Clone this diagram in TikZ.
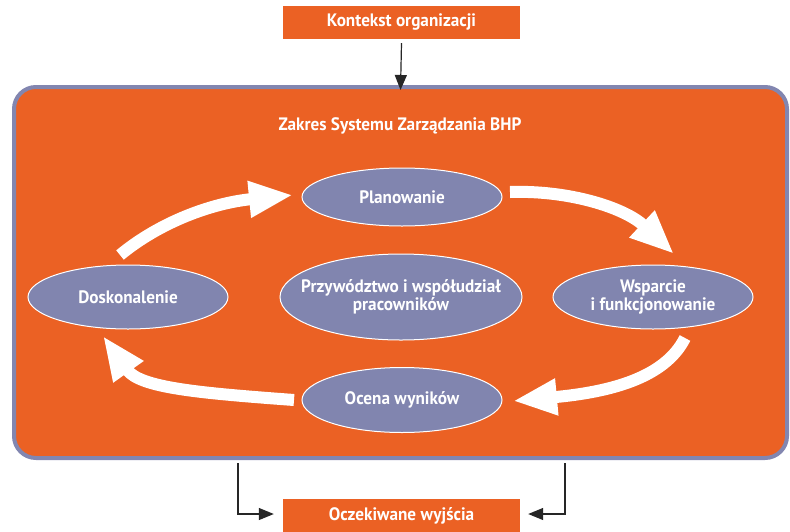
\documentclass[tikz,border=0pt]{standalone}
\usepackage{fontspec}
\setmainfont{PT Sans}[FakeStretch=0.955]
\usetikzlibrary{shapes.geometric,arrows.meta}
\definecolor{orng}{HTML}{EB6124}
\definecolor{lav}{HTML}{8185AF}
\definecolor{lavedge}{HTML}{8286B0}
\tikzset{
  lbl/.style={font=\fontsize{18}{18.5}\selectfont\bfseries, text=white, align=center},
  orbox/.style={lbl, fill=orng, draw=none, minimum width=237pt, minimum height=33pt, inner sep=0pt},
  oval/.style={lbl, ellipse, fill=lav, draw=white, line width=1pt, inner sep=0pt},
  cyc/.style={draw=white, line width=12pt, -{Triangle[length=44pt,width=34pt]}},
  flow/.style={draw=black!85, line width=1.2pt, -{Triangle[length=15pt,width=12pt]}},
}
\begin{document}
\begin{tikzpicture}[x=1pt,y=-1pt]
\useasboundingbox (0,0) rectangle (790,531);
\fill[white] (0,0) rectangle (790,531);
% frame
\node[draw=lavedge, line width=4pt, fill=orng, rounded corners=22pt,
      minimum width=773pt, minimum height=371pt, inner sep=0pt] (frame) at (400.5,272.5) {};
\node[lbl] (title) at (400,126) {Zakres Systemu Zarządzania BHP};
% boxes
\node[orbox] (ctx) at (401.5,22.5) {Kontekst organizacji};
\node[orbox, minimum height=36pt] (out) at (401.5,517) {};
\node[lbl] (outtxt) at (401.5,516) {Oczekiwane wyjścia};
% ellipses
\node[oval, minimum width=200pt, minimum height=58pt] (plan) at (402,197) {Planowanie};
\node[oval, minimum width=200pt, minimum height=64pt] (wsp) at (653,297) {Wsparcie\\i funkcjonowanie};
\node[oval, minimum width=200pt, minimum height=64pt] (dosk) at (128,297) {Doskonalenie};
\node[oval, minimum width=242pt, minimum height=86pt] (lead) at (401,297) {};
\node[lbl] (leadtxt) at (lead.center) {Przywództwo i współudział\\pracowników};
\node[oval, minimum width=200pt, minimum height=65pt] (ocena) at (402,400) {Ocena wyników};
% cycle arrows
\coordinate (a1s) at (120,255); \coordinate (a1e) at (293,195);
\coordinate (a2s) at (510,192); \coordinate (a2e) at (674,254);
\coordinate (a3s) at (685,338); \coordinate (a3e) at (513,401);
\coordinate (a4s) at (294,400); \coordinate (a4e) at (103,336);
\draw[cyc] (a1s) .. controls (160,222) and (212,203) .. (a1e);
\draw[cyc] (a2s) .. controls (570,190) and (625,208) .. (a2e);
\draw[cyc] (a3s) .. controls (665,378) and (610,392) .. (a3e);
\draw[cyc] (a4s) .. controls (200,393) and (140,388) .. (a4e);
% flow arrows
\draw[flow] (ctx.south) ++(0,4) -- ([yshift=-5pt]frame.north);
\coordinate (lb) at (238,463); \coordinate (rb) at (565,463);
\draw[flow] (lb) |- ([xshift=-9pt]out.west |- 0,514);
\draw[flow] (rb) |- ([xshift=8pt]out.east |- 0,514);
\end{tikzpicture}
\end{document}
